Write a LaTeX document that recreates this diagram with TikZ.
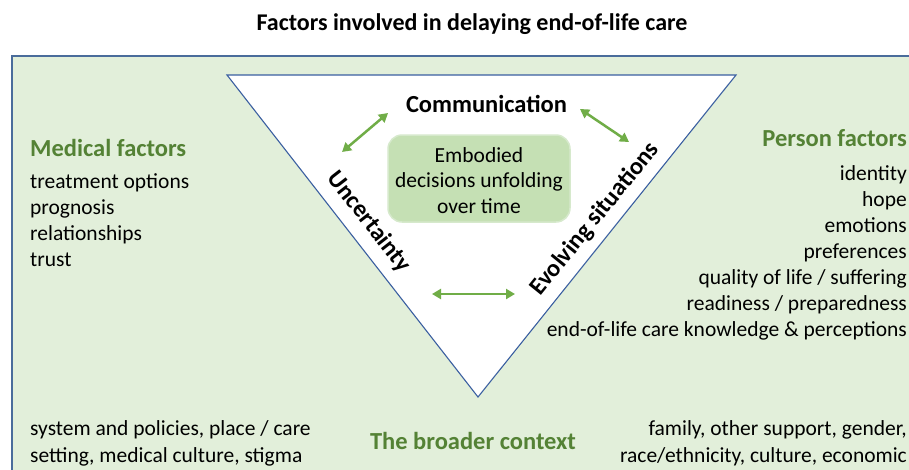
\documentclass[tikz,border=0pt]{standalone}
\usepackage{fontspec}
\setmainfont{Carlito}
\usepackage{tikz}
\usetikzlibrary{arrows.meta}

\definecolor{ctxfill}{HTML}{E2EFDA}
\definecolor{ctxline}{HTML}{4A6C9B}
\definecolor{triline}{HTML}{3A5FA0}
\definecolor{headgreen}{HTML}{548235}
\definecolor{arrowgreen}{HTML}{70AD47}
\definecolor{corefill}{HTML}{C5E0B4}
\definecolor{coreline}{HTML}{D6E9CC}

\begin{document}
\begin{tikzpicture}[x=1pt,y=-1pt]
    \tikzstyle{every node}+=[inner sep=0pt]
    \tikzstyle{title}=[font=\fontsize{24}{26}\selectfont\bfseries]
    \tikzstyle{head}=[font=\fontsize{24.5}{26}\selectfont\bfseries, text=headgreen]
    \tikzstyle{side}=[font=\fontsize{24.5}{26}\selectfont\bfseries]
    \tikzstyle{item}=[font=\fontsize{21.5}{25.5}\selectfont]
    \tikzstyle{twoway}=[arrowgreen, line width=2.5pt,
        {Triangle[length=9pt,width=10pt]}-{Triangle[length=9pt,width=10pt]}]
    \useasboundingbox (0,0) rectangle (909,469);
    % title
    \node [title, anchor=base] (title) at (472,30.5) {Factors involved in delaying end-of-life care};
    % broader context frame and triangle
    \draw [ctxline, line width=1.6pt, fill=ctxfill] (11.8,55.8) rectangle (930,490);
    \draw [triline, line width=1.1pt, fill=white] (227,75) -- (736,75) -- (478,397) -- cycle;
    % core box
    \node [draw=coreline, line width=1.5pt, fill=corefill, rounded corners=14pt,
        minimum width=182pt, minimum height=87pt] (core) at (479,178.5) {};
    \node [item, align=center] (coretxt) at (479,180.5) {Embodied\\decisions unfolding\\over time};
    % triangle sides
    \node [side, anchor=base] (comm) at (486.5,112) {Communication};
    \node [side, rotate=-52] (unc) at (369,222) {Uncertainty};
    \node [side, rotate=51] (evo) at (595,219) {Evolving situations};
    \coordinate (ca) at (342,152);
    \coordinate (cb) at (388,113);
    \coordinate (cc) at (580,109);
    \coordinate (cd) at (629,142);
    \coordinate (ce) at (432,294);
    \coordinate (cf) at (515,294);
    \draw [twoway] (ca) -- (cb);
    \draw [twoway] (cc) -- (cd);
    \draw [twoway] (ce) -- (cf);
    % medical factors
    \node [head, anchor=base west] (med) at (30,156) {Medical factors};
    \node [item, anchor=base west] (med1) at (30,188) {treatment options};
    \node [item, anchor=base west] (med2) at (30,214) {prognosis};
    \node [item, anchor=base west] (med3) at (30,240) {relationships};
    \node [item, anchor=base west] (med4) at (30,266) {trust};
    % person factors
    \node [head, anchor=base east] (pers) at (907,146) {Person factors};
    \node [item, anchor=base east] (pers1) at (907,180) {identity};
    \node [item, anchor=base east] (pers2) at (907,206) {hope};
    \node [item, anchor=base east] (pers3) at (907,232) {emotions};
    \node [item, anchor=base east] (pers4) at (907,258) {preferences};
    \node [item, anchor=base east] (pers5) at (907,284) {quality of life / suffering};
    \node [item, anchor=base east] (pers6) at (907,310) {readiness / preparedness};
    \node [item, anchor=base east] (pers7) at (907,336) {end-of-life care knowledge \& perceptions};
    % broader context
    \node [head, anchor=base] (ctx) at (473,449) {The broader context};
    \node [item, anchor=base west] (ctxl1) at (30,435) {system and policies, place / care};
    \node [item, anchor=base west] (ctxl2) at (30,462) {setting, medical culture, stigma};
    \node [item, anchor=base east] (ctxr1) at (907,435) {family, other support, gender,};
    \node [item, anchor=base east] (ctxr2) at (907,462) {race/ethnicity, culture, economic};
\end{tikzpicture}
\end{document}
